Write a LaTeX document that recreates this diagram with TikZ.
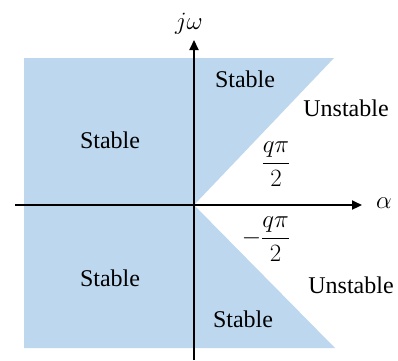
\documentclass[tikz,border=0pt]{standalone}
\usepackage{amsmath}
\usepackage{fontspec}
\setmainfont{Liberation Serif}
\usetikzlibrary{arrows.meta}
\definecolor{shadeblue}{HTML}{BDD7EE}
\begin{document}
\begin{tikzpicture}[x=1pt,y=-1pt,
  lbl/.style={font=\fontsize{24}{28}\selectfont, inner sep=0pt, anchor=center},
  mlbl/.style={font=\fontsize{27}{32}\selectfont, inner sep=0pt, anchor=center},
  axisline/.style={line width=2.2pt, -{Triangle[length=10pt,width=9pt]}}]
\useasboundingbox (0,0) rectangle (398,360);
\fill[shadeblue] (24,58) -- (334,58) -- (194,205) -- (335,348) -- (24,348) -- cycle;
\coordinate (xs) at (15,205);
\coordinate (xe) at (362,205);
\coordinate (ys) at (194,360);
\coordinate (ye) at (194,40);
\draw[axisline] (xs) -- (xe);
\draw[axisline] (ys) -- (ye);
\node[mlbl] (jw) at (189,24) {$j\omega$};
\node[mlbl] (al) at (384,203) {$\alpha$};
\node[lbl] (s1) at (110,140) {Stable};
\node[lbl] (s2) at (110,278) {Stable};
\node[lbl] (s3) at (245,79) {Stable};
\node[lbl] (s4) at (243,319) {Stable};
\node[lbl] (u1) at (346,108) {Unstable};
\node[lbl] (u2) at (351,285) {Unstable};
\node[mlbl] (f1) at (276,164) {$\dfrac{q\pi}{2}$};
\node[mlbl] (f2) at (266,239) {$-\dfrac{q\pi}{2}$};
\end{tikzpicture}
\end{document}
